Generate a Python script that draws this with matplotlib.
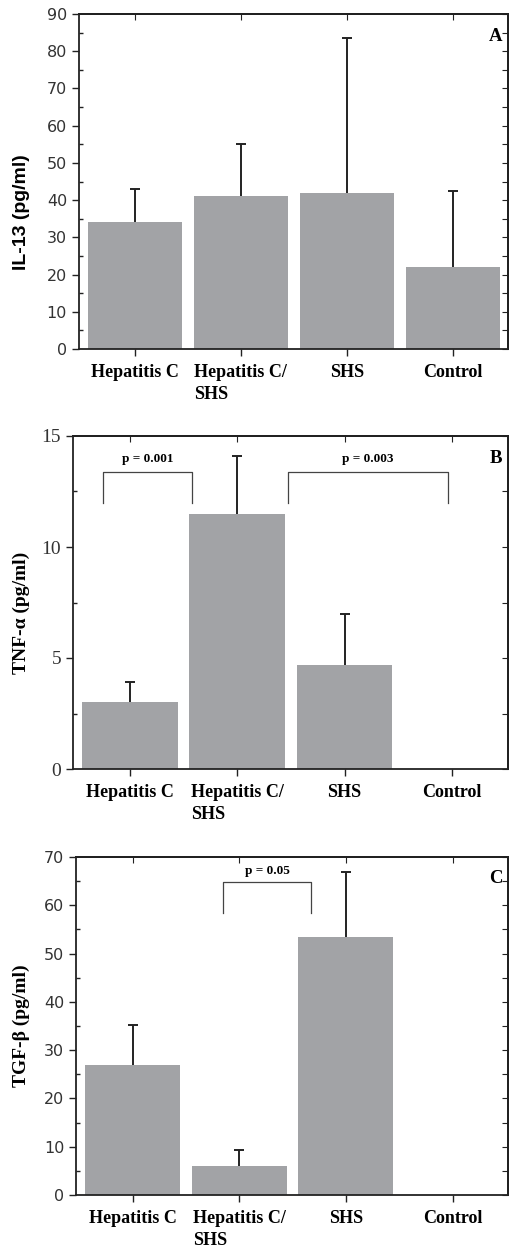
import numpy as np
import matplotlib
matplotlib.use("Agg")
import matplotlib.pyplot as plt

plt.rcParams['font.family'] = ['Liberation Serif', 'DejaVu Serif']

# data
groups = ['Hepatitis C', 'Hepatitis C/\nSHS', 'SHS', 'Control']

il13_mean = [34, 41, 42, 22]
il13_top = [43, 55, 83.5, 42.5]

tnf_mean = [3.0, 11.5, 4.7, 0]
tnf_top = [3.9, 14.1, 7.0, 0]

tgf_mean = [27, 6, 53.5, 0]
tgf_top = [35.3, 9.3, 66.8, 0]

bar_color = '#a2a3a6'

fig = plt.figure(figsize=(5.12, 12.5), dpi=100)


def panel(rect, means, tops, ymax, major, minor, ylabel, ylab_font, tick_font, tick_size,
          letter, letter_y, ylab_pos=0.5):
    ax = fig.add_axes(rect)
    x = np.arange(len(groups))
    ax.bar(x, means, width=0.89, color=bar_color, edgecolor='none', zorder=2)
    # upper error bars only, with a cap on the top end
    for xi, m, t in zip(x, means, tops):
        if t > m:
            ax.vlines(xi, m, t, color='#222222', lw=1.4, zorder=1)
            ax.plot(xi, t, marker='_', ms=7, mew=1.4, color='#222222', zorder=1)
    ax.set_xlim(-0.53, 3.52)
    ax.set_ylim(0, ymax)
    ax.set_yticks(np.arange(0, ymax + 0.01, major))
    ax.set_yticks(np.arange(0, ymax + 0.01, minor), minor=True)
    ax.set_xticks(x)
    ax.set_xticklabels(groups, fontweight='bold', fontsize=13, multialignment='left',
                       linespacing=1.35)
    for lab in ax.get_yticklabels():
        lab.set_family(tick_font)
        lab.set_fontsize(tick_size)
        lab.set_color('#333333')
    ax.tick_params(axis='y', which='major', direction='out', length=5, width=1, color='#222222')
    ax.tick_params(axis='y', which='minor', direction='in', length=3, width=1, color='#222222')
    ax.tick_params(axis='x', direction='out', length=5, width=1, color='#222222', pad=6)
    for s in ax.spines.values():
        s.set_linewidth(1.3)
        s.set_color('#222222')
    sec_y = ax.secondary_yaxis('right')
    sec_y.set_yticks(np.arange(0, ymax + 0.01, minor))
    sec_y.tick_params(direction='in', length=4, labelright=False, color='#222222')
    sec_y.spines['right'].set_linewidth(1.3)
    sec_x = ax.secondary_xaxis('top')
    sec_x.set_xticks(x)
    sec_x.tick_params(direction='in', length=4, labeltop=False, color='#222222')
    sec_x.spines['top'].set_linewidth(1.3)
    ax.set_ylabel(ylabel, fontweight='bold', fontsize=14, family=ylab_font)
    # label's right edge at about x = 30 px in the figure
    left_px = rect[0] * 512
    width_px = rect[2] * 512
    ax.yaxis.set_label_coords((30 - left_px) / width_px, ylab_pos)
    ax.text(3.47, letter_y, letter, fontweight='bold', fontsize=13.5, ha='right', va='center')
    return ax


def bracket(ax, x0, x1, ylow, yhigh, text, ytext):
    ax.plot([x0, x0, x1, x1], [ylow, yhigh, yhigh, ylow], color='#444444', lw=0.9)
    ax.text((x0 + x1) / 2, ytext, text, fontweight='bold', fontsize=9.5, ha='center', va='center')


axA = panel([0.154, 0.7208, 0.838, 0.268], il13_mean, il13_top, 90, 10, 5,
            'IL-13 (pg/ml)', 'Liberation Sans', 'DejaVu Sans', 11.5, 'A', 84, ylab_pos=0.41)

axB = panel([0.1426, 0.3848, 0.849, 0.2664], tnf_mean, tnf_top, 15, 5, 2.5,
            'TNF-α (pg/ml)', 'Liberation Serif', 'Liberation Serif', 14, 'B', 14.0, ylab_pos=0.47)
bracket(axB, -0.25, 0.58, 12.0, 13.4, 'p = 0.001', 13.95)
bracket(axB, 1.47, 2.96, 12.0, 13.4, 'p = 0.003', 13.95)

axC = panel([0.1484, 0.044, 0.844, 0.2704], tgf_mean, tgf_top, 70, 10, 5,
            'TGF-β (pg/ml)', 'Liberation Serif', 'DejaVu Sans', 11.5, 'C', 65.6)
bracket(axC, 0.85, 1.67, 58.4, 64.8, 'p = 0.05', 67.0)

fig.savefig('out.png', dpi=100)
